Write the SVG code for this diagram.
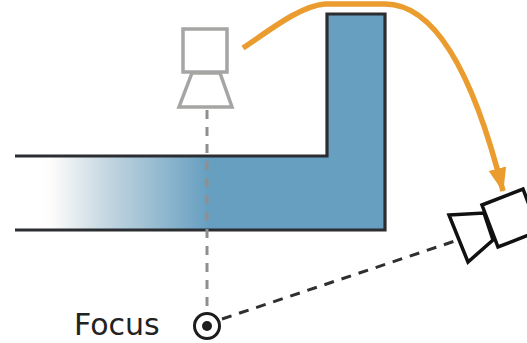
<svg xmlns="http://www.w3.org/2000/svg" width="527" height="343" viewBox="0 0 527 343">
<defs>
<linearGradient id="fade" gradientUnits="userSpaceOnUse" x1="38" y1="0" x2="208" y2="0">
<stop offset="0" stop-color="#fff"/>
<stop offset="0.08" stop-color="#fdfcfa"/>
<stop offset="0.4" stop-color="#c5d7e1"/>
<stop offset="1" stop-color="#679fc0"/>
</linearGradient>
<marker id="head" markerUnits="userSpaceOnUse" markerWidth="24" markerHeight="20" refX="23" refY="10" orient="auto">
<path d="M0,1 L24,10 L0,19 Z" fill="#ea9c2f"/>
</marker>
</defs>
<style>
.wall{fill:none;stroke:#2b2d30;stroke-width:3.2}
.dash{fill:none;stroke-width:3}
.cam{fill:#fff;stroke-width:3.5;stroke-linejoin:miter}
</style>
<g id="wall-shape">
<path d="M30,157 H327 V14 H385 V230 H30 Z" fill="url(#fade)"/>
<path class="wall" d="M15,156 H327 V14 H385 V230 H15"/>
</g>
<g id="connectors">
<path class="dash" stroke="#8e8f8e" stroke-dasharray="9 8" d="M207,110 V314"/>
<path class="dash" stroke="#2f2f30" stroke-dasharray="10 8" d="M222,319 L455,241"/>
<path fill="none" stroke="#ea9c2f" stroke-width="5.5" marker-end="url(#head)" d="M243,48 C270,30 300,6 325,4 H385 C430,4 470,60 503,191"/>
</g>
<g id="camera-top">
<path class="cam" stroke="#a5a6a3" d="M192,73 H220 L232,107 H179 Z"/>
<rect class="cam" stroke="#a5a6a3" x="183" y="29" width="44" height="43"/>
</g>
<g id="camera-right">
<path class="cam" stroke="#111" d="M449,215 L484,213 L493,240 L468,262 Z"/>
<path class="cam" stroke="#111" d="M482,205 L523,189 L539,231 L498,247 Z"/>
</g>
<g id="focus">
<circle cx="207" cy="326" r="12.5" fill="#fff" stroke="#1d1d1d" stroke-width="3"/>
<circle cx="207" cy="326" r="5" fill="#1d1d1d"/>
<text x="74" y="335" font-family="'DejaVu Sans',sans-serif" font-size="30" fill="#222">Focus</text>
</g>
</svg>
